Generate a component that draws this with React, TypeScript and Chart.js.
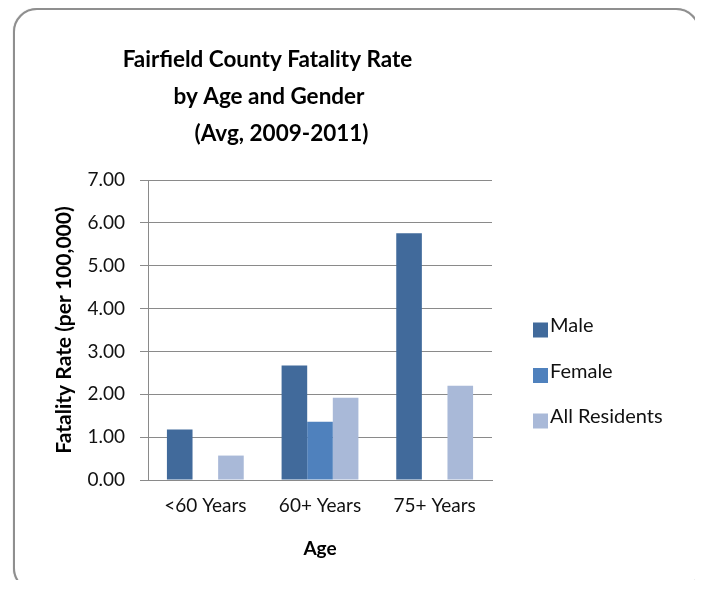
import React, { useEffect, useRef } from "react";
import { Chart, registerables } from "chart.js";

Chart.register(...registerables);

// ---------- data ----------
const categories = ["<60 Years", "60+ Years", "75+ Years"];
const seriesNames = ["Male", "Female", "All Residents"];
const maleValues: (number | null)[] = [1.18, 2.67, 5.76];
const femaleValues: (number | null)[] = [null, 1.36, null];
const allResidentsValues: (number | null)[] = [0.57, 1.92, 2.2];
const seriesColors = ["#416A9B", "#4F81BD", "#A9B9D8"];
const titleLines = ["Fairfield County Fatality Rate", "by Age and Gender", "(Avg, 2009-2011)"];
const yAxisTitle = "Fatality Rate (per 100,000)";
const xAxisTitle = "Age";
const yMin = 0;
const yMax = 7;
const yStep = 1;

const FONT = "Lato, 'Open Sans', sans-serif";

const titlePlugin = {
  id: "excelTitle",
  afterDraw(chart: any, _args: any, opts: any) {
    const ctx = chart.ctx;
    ctx.save();
    ctx.font = `bold ${opts.size}px ${FONT}`;
    ctx.fillStyle = "#000";
    ctx.textAlign = "center";
    ctx.textBaseline = "alphabetic";
    opts.lines.forEach((l: string, i: number) => {
      ctx.fillText(l, opts.centers[i], opts.baselines[i]);
    });
    ctx.restore();
  },
};

const legendPlugin = {
  id: "excelLegend",
  afterDraw(chart: any, _args: any, opts: any) {
    const ctx = chart.ctx;
    ctx.save();
    ctx.font = `${opts.size}px ${FONT}`;
    ctx.textAlign = "left";
    ctx.textBaseline = "middle";
    chart.data.datasets.forEach((ds: any, i: number) => {
      const cy = opts.y + i * opts.spacing;
      ctx.fillStyle = ds.backgroundColor;
      ctx.fillRect(opts.x, cy - opts.box / 2 + opts.boxShift, opts.box, opts.box);
      ctx.fillStyle = "#111";
      ctx.fillText(ds.label, opts.x + opts.box + opts.gap, cy);
    });
    ctx.restore();
  },
};

export default function App() {
  const canvasRef = useRef<HTMLCanvasElement | null>(null);

  useEffect(() => {
    if (!canvasRef.current) return;
    const chart = new Chart(canvasRef.current, {
      type: "bar",
      data: {
        labels: categories,
        datasets: [
          { label: seriesNames[0], data: maleValues, backgroundColor: seriesColors[0] },
          { label: seriesNames[1], data: femaleValues, backgroundColor: seriesColors[1] },
          { label: seriesNames[2], data: allResidentsValues, backgroundColor: seriesColors[2] },
        ],
      },
      options: {
        animation: false,
        responsive: true,
        maintainAspectRatio: false,
        layout: { padding: { top: 170, left: 15, right: 206, bottom: 20 } },
        datasets: { bar: { categoryPercentage: 0.67, barPercentage: 1.0 } },
        plugins: {
          legend: { display: false },
          title: { display: false },
          tooltip: { enabled: false },
          excelTitle: {
            lines: titleLines,
            size: 22.5,
            centers: [252.5, 254, 266.5],
            baselines: [56.7, 94.3, 130.7],
          },
          excelLegend: { x: 518, y: 316, spacing: 45.5, box: 15, boxShift: 4, gap: 2, size: 20 },
        } as any,
        scales: {
          x: {
            grid: { display: false, drawTicks: false },
            border: { display: true, color: "#8a8a8a", width: 1 },
            ticks: { font: { family: FONT, size: 19 }, color: "#111", padding: 14 },
            title: {
              display: true,
              text: xAxisTitle,
              font: { family: FONT, size: 19, weight: "bold" },
              color: "#000",
              padding: { top: 0, bottom: 10 },
            },
            afterFit: (scale: any) => {
              scale.height = 90;
            },
          },
          y: {
            min: yMin,
            max: yMax,
            grid: { color: "#8a8a8a", lineWidth: 1, tickLength: 8, drawTicks: true },
            border: { display: true, color: "#8a8a8a", width: 1 },
            ticks: {
              stepSize: yStep,
              font: { family: FONT, size: 19 },
              color: "#111",
              padding: 15,
              callback: (v: any) => Number(v).toFixed(2),
            },
            title: {
              display: true,
              text: yAxisTitle,
              font: { family: FONT, size: 21, weight: "bold" },
              color: "#000",
              padding: { top: 22, bottom: 0 },
            },
            afterFit: (scale: any) => {
              scale.width = 118;
            },
          },
        },
      },
      plugins: [titlePlugin, legendPlugin],
    });
    return () => chart.destroy();
  }, []);

  return (
    <div
      style={{
        position: "relative",
        width: 683,
        height: 580,
        marginLeft: 5,
        marginBottom: -12,
        border: "2px solid #8f8f8f",
        borderRadius: 24,
        boxShadow: "0 0 1px #9a9a9a",
        background: "#fff",
      }}
    >
      <canvas ref={canvasRef} />
    </div>
  );
}
